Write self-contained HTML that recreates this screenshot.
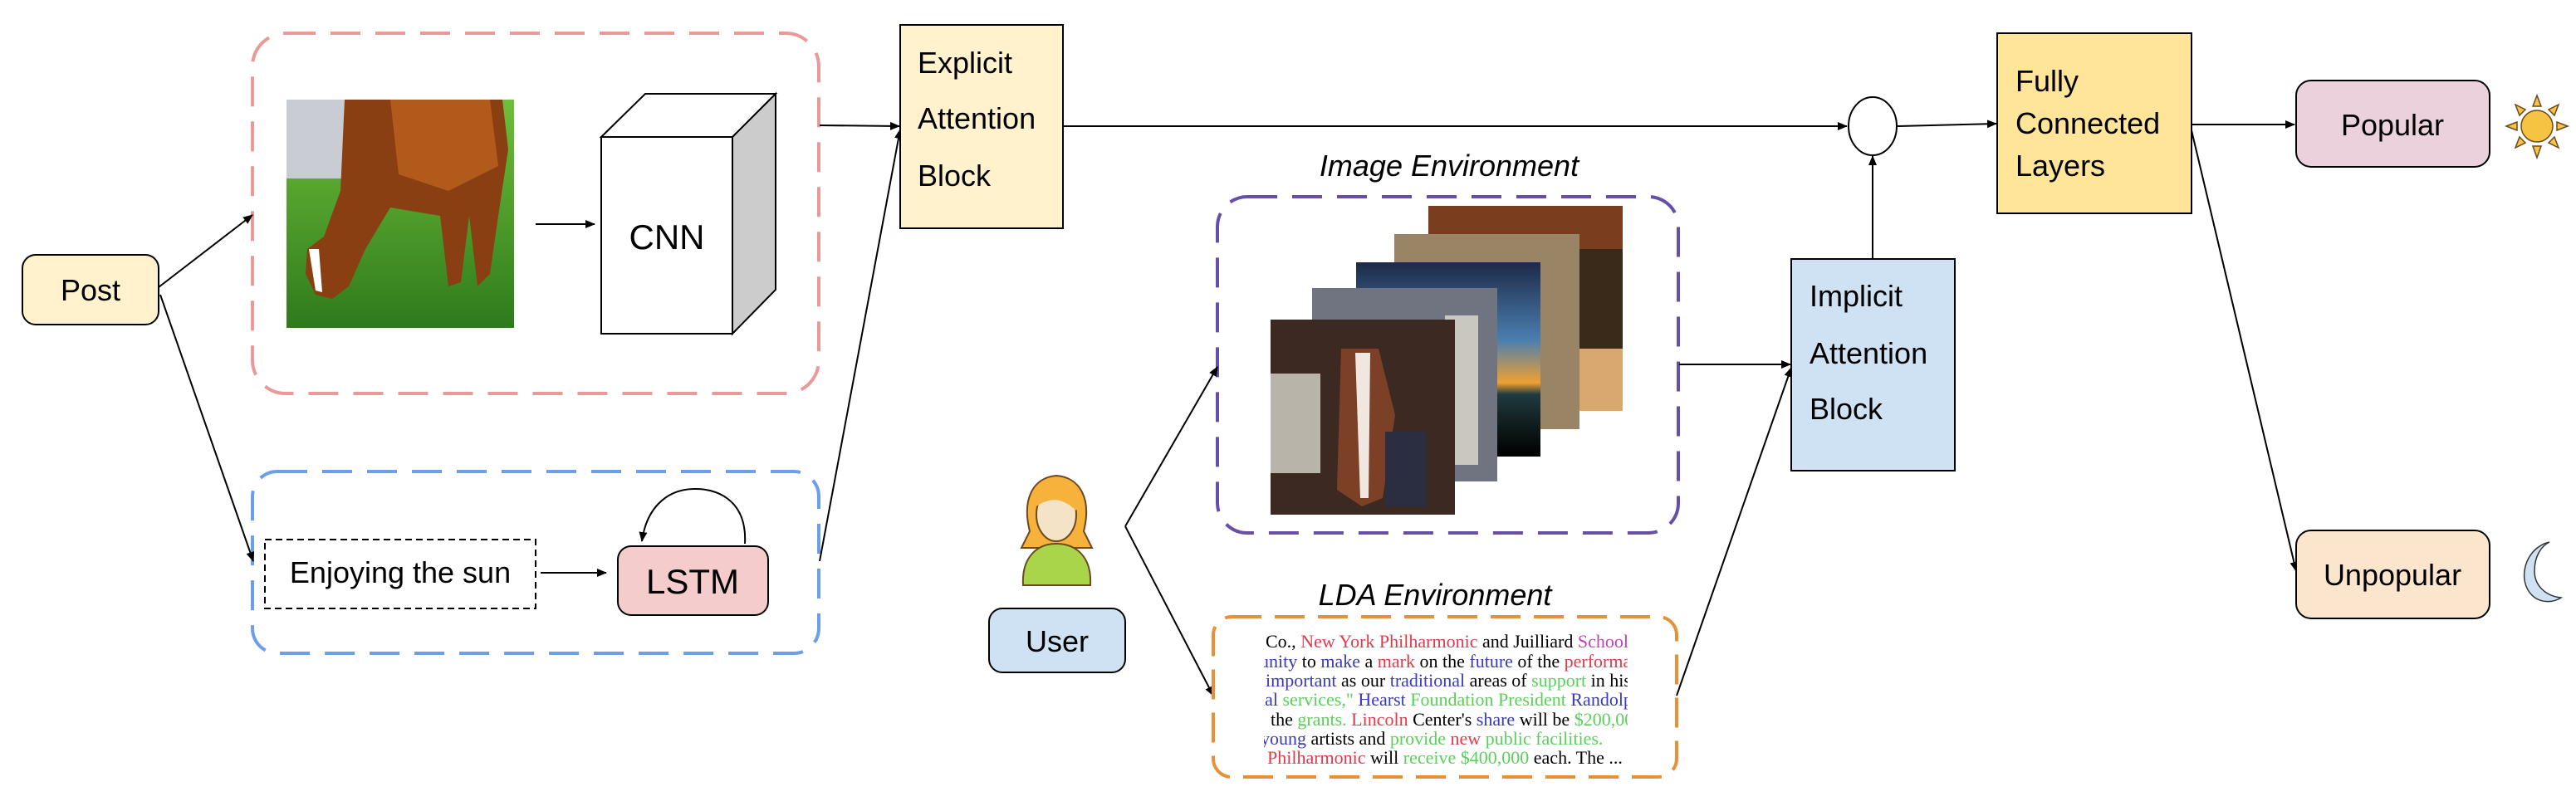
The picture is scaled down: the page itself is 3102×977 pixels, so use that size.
<!DOCTYPE html>
<html><head><meta charset="utf-8"><style>
html,body{margin:0;padding:0;background:#fff;}
svg{display:block;}
text{font-family:"Liberation Sans",Arial,sans-serif;fill:#000;}
.s{font-family:"Liberation Serif",serif;font-size:22px;}
</style></head><body>
<svg width="3102" height="977" viewBox="0 0 3102 977" xmlns="http://www.w3.org/2000/svg">
<defs>
<marker id="a" markerWidth="12" markerHeight="10" refX="11" refY="5" orient="auto" markerUnits="userSpaceOnUse"><path d="M0,0 L12,5 L0,10 Z" fill="#000"/></marker>
<linearGradient id="grass" x1="0" y1="0" x2="0" y2="1"><stop offset="0" stop-color="#6fbf3a"/><stop offset="1" stop-color="#2f7a1c"/></linearGradient>
<linearGradient id="sky" x1="0" y1="0" x2="0" y2="1"><stop offset="0" stop-color="#1d2a48"/><stop offset="0.4" stop-color="#4a7fb0"/><stop offset="0.62" stop-color="#f0a030"/><stop offset="0.68" stop-color="#1f3a40"/><stop offset="0.85" stop-color="#0f1a1a"/><stop offset="1" stop-color="#000"/></linearGradient>
<clipPath id="lda2"><rect x="1522" y="755" width="438" height="178"/></clipPath>
</defs>

<!-- Post -->
<rect x="27" y="307" width="164" height="84" rx="16" fill="#fff2cc" stroke="#000" stroke-width="2"/>
<text x="109" y="362" font-size="36" text-anchor="middle">Post</text>

<!-- Red dashed -->
<rect x="304" y="40" width="682" height="434" rx="40" fill="none" stroke="#ea9999" stroke-width="4" stroke-dasharray="36,18"/>
<rect x="345" y="120" width="274" height="275" fill="url(#grass)"/>
<rect x="345" y="120" width="70" height="95" fill="#c9ccd2"/>
<path d="M415,120 L605,120 L612,180 L600,260 L590,330 L575,345 L565,260 L555,340 L540,345 L530,260 L470,250 L440,300 L420,345 L400,360 L380,355 L368,330 L370,300 L390,285 L410,230 Z" fill="#8a3f12"/>
<path d="M470,120 L590,120 L600,200 L540,230 L480,210 Z" fill="#b25a1c"/>
<path d="M372,300 L380,350 L388,352 L384,300 Z" fill="#fff"/>
<line x1="645" y1="270" x2="716" y2="270" stroke="#000" stroke-width="2" marker-end="url(#a)"/>
<polygon points="724,165 777,113 934,113 882,165" fill="#fff" stroke="#000" stroke-width="2"/>
<polygon points="882,165 934,113 934,349 882,402" fill="#cccccc" stroke="#000" stroke-width="2"/>
<rect x="724" y="165" width="158" height="237" fill="#fff" stroke="#000" stroke-width="2"/>
<text x="803" y="300" font-size="42" text-anchor="middle">CNN</text>

<!-- Blue dashed -->
<rect x="304" y="568" width="682" height="219" rx="30" fill="none" stroke="#6d9eeb" stroke-width="4" stroke-dasharray="36,18"/>
<rect x="319" y="650" width="326" height="83" fill="none" stroke="#000" stroke-width="2" stroke-dasharray="8,5"/>
<text x="482" y="702" font-size="36" text-anchor="middle">Enjoying the sun</text>
<line x1="651" y1="690" x2="730" y2="690" stroke="#000" stroke-width="2" marker-end="url(#a)"/>
<rect x="744" y="658" width="181" height="83" rx="16" fill="#f4cccc" stroke="#000" stroke-width="2"/>
<text x="834" y="715" font-size="42" text-anchor="middle">LSTM</text>
<path d="M897,655 C900,600 860,588 835,589 C800,590 778,615 773,652" fill="none" stroke="#000" stroke-width="2" marker-end="url(#a)"/>

<line x1="191" y1="346" x2="304" y2="259" stroke="#000" stroke-width="2" marker-end="url(#a)"/>
<line x1="193" y1="355" x2="305" y2="676" stroke="#000" stroke-width="2" marker-end="url(#a)"/>
<line x1="987" y1="151" x2="1083" y2="152" stroke="#000" stroke-width="2" marker-end="url(#a)"/>
<line x1="987" y1="676" x2="1084" y2="156" stroke="#000" stroke-width="2" marker-end="url(#a)"/>

<rect x="1084" y="30" width="196" height="245" fill="#fff2cc" stroke="#000" stroke-width="2"/>
<text x="1105" y="88" font-size="36">Explicit</text>
<text x="1105" y="155" font-size="36">Attention</text>
<text x="1105" y="224" font-size="36">Block</text>

<line x1="1280" y1="152" x2="2224" y2="152" stroke="#000" stroke-width="2" marker-end="url(#a)"/>
<ellipse cx="2255" cy="152" rx="29" ry="35" fill="#fff" stroke="#000" stroke-width="2"/>
<line x1="2284" y1="152" x2="2404" y2="149" stroke="#000" stroke-width="2" marker-end="url(#a)"/>

<text x="1745" y="212" font-size="36" font-style="italic" text-anchor="middle">Image Environment</text>
<rect x="1466" y="237" width="555" height="405" rx="36" fill="none" stroke="#674ea7" stroke-width="4" stroke-dasharray="36,18"/>
<rect x="1720" y="248" width="234" height="247" fill="#7a3d1e"/>
<rect x="1880" y="300" width="74" height="120" fill="#3a2a1a"/>
<rect x="1880" y="420" width="74" height="75" fill="#d8a870"/>
<rect x="1679" y="282" width="223" height="235" fill="#9a8466"/>
<rect x="1633" y="316" width="222" height="234" fill="url(#sky)"/>
<rect x="1580" y="347" width="223" height="233" fill="#6f7480"/>
<rect x="1740" y="380" width="40" height="180" fill="#c8c8c0"/>
<rect x="1530" y="385" width="222" height="235" fill="#3c2a22"/>
<rect x="1530" y="450" width="60" height="120" fill="#b8b4aa"/>
<path d="M1615,420 L1660,420 L1680,500 L1665,600 L1640,610 L1610,590 Z" fill="#7b4026"/>
<path d="M1632,425 L1650,425 L1648,600 L1638,600 Z" fill="#f0e8e0"/>
<rect x="1668" y="520" width="50" height="90" fill="#2a2e40"/>

<line x1="2022" y1="439" x2="2156" y2="439" stroke="#000" stroke-width="2" marker-end="url(#a)"/>
<line x1="2019" y1="838" x2="2157" y2="443" stroke="#000" stroke-width="2" marker-end="url(#a)"/>
<rect x="2157" y="312" width="197" height="255" fill="#cfe2f3" stroke="#000" stroke-width="2"/>
<text x="2179" y="369" font-size="36">Implicit</text>
<text x="2179" y="438" font-size="36">Attention</text>
<text x="2179" y="505" font-size="36">Block</text>
<line x1="2255" y1="312" x2="2255" y2="188" stroke="#000" stroke-width="2" marker-end="url(#a)"/>

<path d="M1240,640 C1230,600 1245,575 1272,573 C1300,575 1315,600 1305,640 L1315,660 L1230,660 Z" fill="#f6b23a" stroke="#6b4a20" stroke-width="2"/>
<path d="M1232,705 C1230,670 1250,655 1272,655 C1295,655 1315,670 1313,705 Z" fill="#a8d54a" stroke="#6b4a20" stroke-width="2"/>
<ellipse cx="1272" cy="620" rx="24" ry="32" fill="#f5e3c8" stroke="#6b4a20" stroke-width="2"/>
<path d="M1248,610 C1250,585 1270,578 1290,588 C1300,598 1298,610 1296,615 C1280,600 1265,598 1248,610 Z" fill="#f6b23a"/>
<rect x="1191" y="733" width="164" height="77" rx="16" fill="#cfe2f3" stroke="#000" stroke-width="2"/>
<text x="1273" y="785" font-size="36" text-anchor="middle">User</text>
<line x1="1355" y1="634" x2="1466" y2="442" stroke="#000" stroke-width="2" marker-end="url(#a)"/>
<line x1="1355" y1="634" x2="1461" y2="838" stroke="#000" stroke-width="2" marker-end="url(#a)"/>

<text x="1728" y="729" font-size="36" font-style="italic" text-anchor="middle">LDA Environment</text>
<rect x="1461" y="743" width="558" height="193" rx="22" fill="none" stroke="#e69138" stroke-width="4" stroke-dasharray="36,16"/>
<g clip-path="url(#lda2)">
<text class="s" x="1524" y="780"><tspan>Co.,</tspan>  <tspan fill="#e03a4a">New   York   Philharmonic</tspan>  and Juilliard  <tspan fill="#c040c0">School</tspan></text>
<text class="s" x="1517" y="804"><tspan fill="#3a3ab8">unity</tspan>  to <tspan fill="#3a3ab8">make</tspan>  a <tspan fill="#e03a4a">mark</tspan>   on the <tspan fill="#3a3ab8">future</tspan>   of the <tspan fill="#e03a4a">performance</tspan></text>
<text class="s" x="1524" y="827"><tspan fill="#3a3ab8">important</tspan>   as our <tspan fill="#3a3ab8">traditional</tspan>   areas   of <tspan fill="#5ad05a">support</tspan>   in his</text>
<text class="s" x="1517" y="850"><tspan fill="#3a3ab8">ial</tspan>   <tspan fill="#5ad05a">services,"</tspan>   <tspan fill="#3a3ab8">Hearst</tspan>   <tspan fill="#5ad05a">Foundation   President</tspan>   <tspan fill="#3a3ab8">Randolph</tspan></text>
<text class="s" x="1530" y="874">the <tspan fill="#5ad05a">grants.</tspan>   <tspan fill="#e03a4a">Lincoln</tspan>   Center's   <tspan fill="#3a3ab8">share</tspan>   will be <tspan fill="#5ad05a">$200,000</tspan></text>
<text class="s" x="1518" y="897"><tspan fill="#3a3ab8">young</tspan>   artists   and <tspan fill="#5ad05a">provide</tspan>   <tspan fill="#e03a4a">new</tspan>   <tspan fill="#5ad05a">public   facilities.</tspan></text>
<text class="s" x="1526" y="920"><tspan fill="#e03a4a">Philharmonic</tspan>   will <tspan fill="#5ad05a">receive   $400,000</tspan>   each.  The ...</text>
</g>

<rect x="2405" y="40" width="234" height="217" fill="#ffe599" stroke="#000" stroke-width="2"/>
<text x="2427" y="110" font-size="36">Fully</text>
<text x="2427" y="161" font-size="36">Connected</text>
<text x="2427" y="212" font-size="36">Layers</text>
<line x1="2639" y1="150" x2="2763" y2="150" stroke="#000" stroke-width="2" marker-end="url(#a)"/>
<line x1="2639" y1="157" x2="2765" y2="688" stroke="#000" stroke-width="2" marker-end="url(#a)"/>

<rect x="2765" y="97" width="233" height="104" rx="18" fill="#ead1dc" stroke="#000" stroke-width="2"/>
<text x="2881" y="163" font-size="36" text-anchor="middle">Popular</text>
<rect x="2765" y="639" width="233" height="106" rx="18" fill="#fce5cd" stroke="#000" stroke-width="2"/>
<text x="2881" y="705" font-size="36" text-anchor="middle">Unpopular</text>

<g stroke="#6b4a20" stroke-width="1.5" fill="#f6c343">
<polygon points="3055,115 3050,128 3060,128"/>
<polygon points="3055,190 3050,176 3060,176"/>
<polygon points="3018,152 3031,147 3031,157"/>
<polygon points="3092,152 3079,147 3079,157"/>
<polygon points="3029,126 3034,139 3041,132"/>
<polygon points="3081,126 3076,139 3069,132"/>
<polygon points="3029,178 3034,165 3041,172"/>
<polygon points="3081,178 3076,165 3069,172"/>
<circle cx="3055" cy="152" r="19"/>
</g>
<path d="M3070,653 C3040,660 3030,700 3050,718 C3060,727 3075,726 3084,720 C3065,718 3052,705 3052,688 C3052,670 3060,658 3070,653 Z" fill="#cfe2f3" stroke="#333" stroke-width="1.5"/>
</svg>
</body></html>
